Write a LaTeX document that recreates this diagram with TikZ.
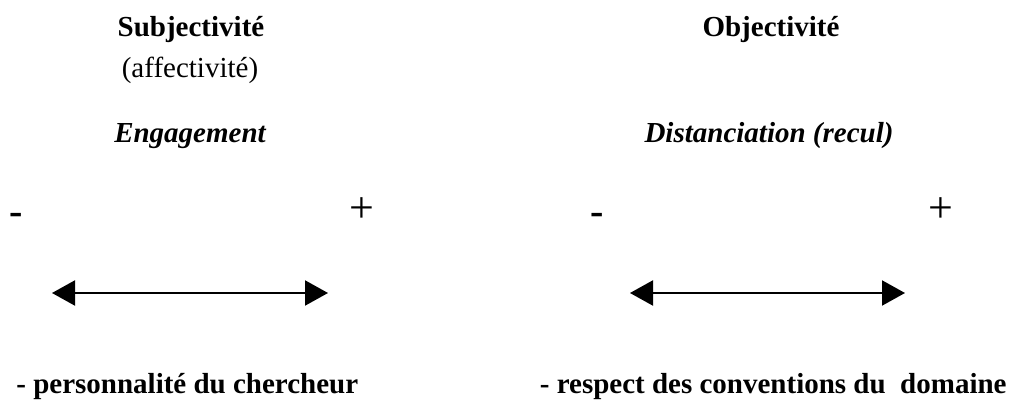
\documentclass[tikz,border=0pt]{standalone}
\usepackage{fontspec}
\setmainfont{Liberation Serif}
\usetikzlibrary{arrows.meta}
\begin{document}
\begin{tikzpicture}[x=0.5pt,y=-0.5pt,
  txt/.style={inner sep=0pt,anchor=base,font=\fontsize{14.5}{17}\selectfont},
  bld/.style={txt,font=\fontsize{14.5}{17}\selectfont\bfseries},
  itb/.style={txt,font=\fontsize{14.5}{17}\selectfont\bfseries\itshape},
  sgn/.style={inner sep=0pt,anchor=center,font=\fontsize{22}{26}\selectfont},
  twoway/.style={line width=1pt,{Triangle[length=11.5pt,width=12.5pt]}-{Triangle[length=11.5pt,width=12.5pt]}}]
\useasboundingbox (0,0) rectangle (1013,401);
% left column
\node[bld] (subj) at (191,37) {Subjectivité};
\node[txt] (aff) at (190,78) {(affectivité)};
\node[itb] (eng) at (190,143) {Engagement};
\node[sgn,font=\fontsize{20}{24}\selectfont\bfseries] (lminus) at (16.5,219) {-};
\node[sgn] (lplus) at (361.5,210) {+};
\coordinate (la) at (52,293);
\coordinate (lb) at (328,293);
\draw[twoway] (la) -- (lb);
\node[bld,anchor=base west] (pers) at (16,393) {- personnalité du chercheur};
% right column
\node[bld] (obj) at (771,37) {Objectivité};
\node[itb] (dist) at (769,143) {Distanciation (recul)};
\node[sgn,font=\fontsize{20}{24}\selectfont\bfseries] (rminus) at (597,219) {-};
\node[sgn] (rplus) at (941,210) {+};
\coordinate (ra) at (630,293);
\coordinate (rb) at (905,293);
\draw[twoway] (ra) -- (rb);
\node[bld,anchor=base east] (resp) at (1007,393) {- respect des conventions du\ \ domaine};
\end{tikzpicture}
\end{document}
